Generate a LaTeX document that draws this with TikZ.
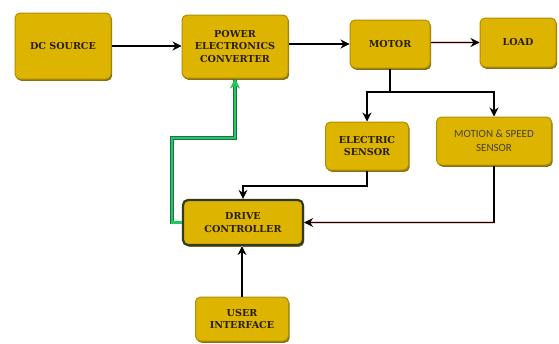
\documentclass[tikz,border=0pt]{standalone}
\usepackage{fontspec}
\setmainfont{DejaVu Serif}
\newfontfamily\carl{Carlito}
\usetikzlibrary{arrows.meta,shadows}
\definecolor{gold}{HTML}{DDB500}
\definecolor{golde}{HTML}{B08C00}
\definecolor{goldsh}{HTML}{7A6000}
\definecolor{txt}{HTML}{2A1E08}
\definecolor{shpink}{HTML}{F6C8C8}
\definecolor{grnl}{HTML}{22C85A}
\definecolor{grnd}{HTML}{1E6E50}
\definecolor{dcb}{HTML}{2F3A22}
\begin{document}
\begin{tikzpicture}[x=1pt,y=-1pt,
  blk/.style 2 args={draw=golde, fill=gold, line width=1pt, rounded corners=5pt,
    minimum width=#1, minimum height=#2, align=center, inner sep=0pt,
    font=\fontsize{9.6}{12.5}\selectfont\bfseries, text=txt,
    drop shadow={shadow xshift=1.2pt, shadow yshift=-1.8pt, fill=goldsh, opacity=0.9}},
  con/.style={draw=black, line width=1.3pt, -{Stealth[length=9pt,width=9pt,inset=3pt]},
    preaction={draw=shpink, line width=2.4pt, -}},
  gcon/.style={draw=grnl, line width=2.4pt, -{Stealth[length=10pt,width=10pt,inset=3pt,fill=grnd]},
    preaction={draw=grnd, line width=3.2pt, -}}
]
\useasboundingbox (0,0) rectangle (559,343);
\node[blk={96pt}{66pt}] (dcs) at (63,46) {DC SOURCE};
\node[blk={106pt}{63pt}] (pec) at (235,46.5) {POWER\\ELECTRONICS\\CONVERTER};
\node[blk={80pt}{48pt}] (mot) at (390,44) {MOTOR};
\node[blk={76pt}{49pt}] (ld) at (518,42.5) {LOAD};
\node[blk={83pt}{48pt}] (es) at (367,146) {ELECTRIC\\SENSOR};
\node[blk={115pt}{48pt}, font=\carl\fontsize{11}{14}\selectfont, text=txt!85] (mss) at (494,141) {MOTION \& SPEED\\SENSOR};
\node[blk={120pt}{45pt}, draw=dcb, line width=2.2pt] (dc) at (243,222.5) {DRIVE\\CONTROLLER};
\node[blk={93pt}{44pt}] (ui) at (242,319) {USER\\INTERFACE};
\coordinate (br) at (390,92);
\coordinate (g1) at (172,138);
\draw[con] (dcs.east) -- (dcs.east -| pec.west);
\draw[con] (pec.east |- mot.west) -- (mot.west);
\draw[con] (mot.east |- ld.west) -- (ld.west);
\draw[con] (mot.south) -- (br) -| (es.north);
\draw[con] (br) -| (mss.north);
\draw[con] (es.south) -- ++(0,15.5) -| (dc.north);
\draw[con] (mss.south) |- (dc.east);
\draw[con] (ui.north) -- (ui.north |- dc.south);
\draw[gcon] (dc.west) -| (g1) -| (pec.south);
\end{tikzpicture}
\end{document}
